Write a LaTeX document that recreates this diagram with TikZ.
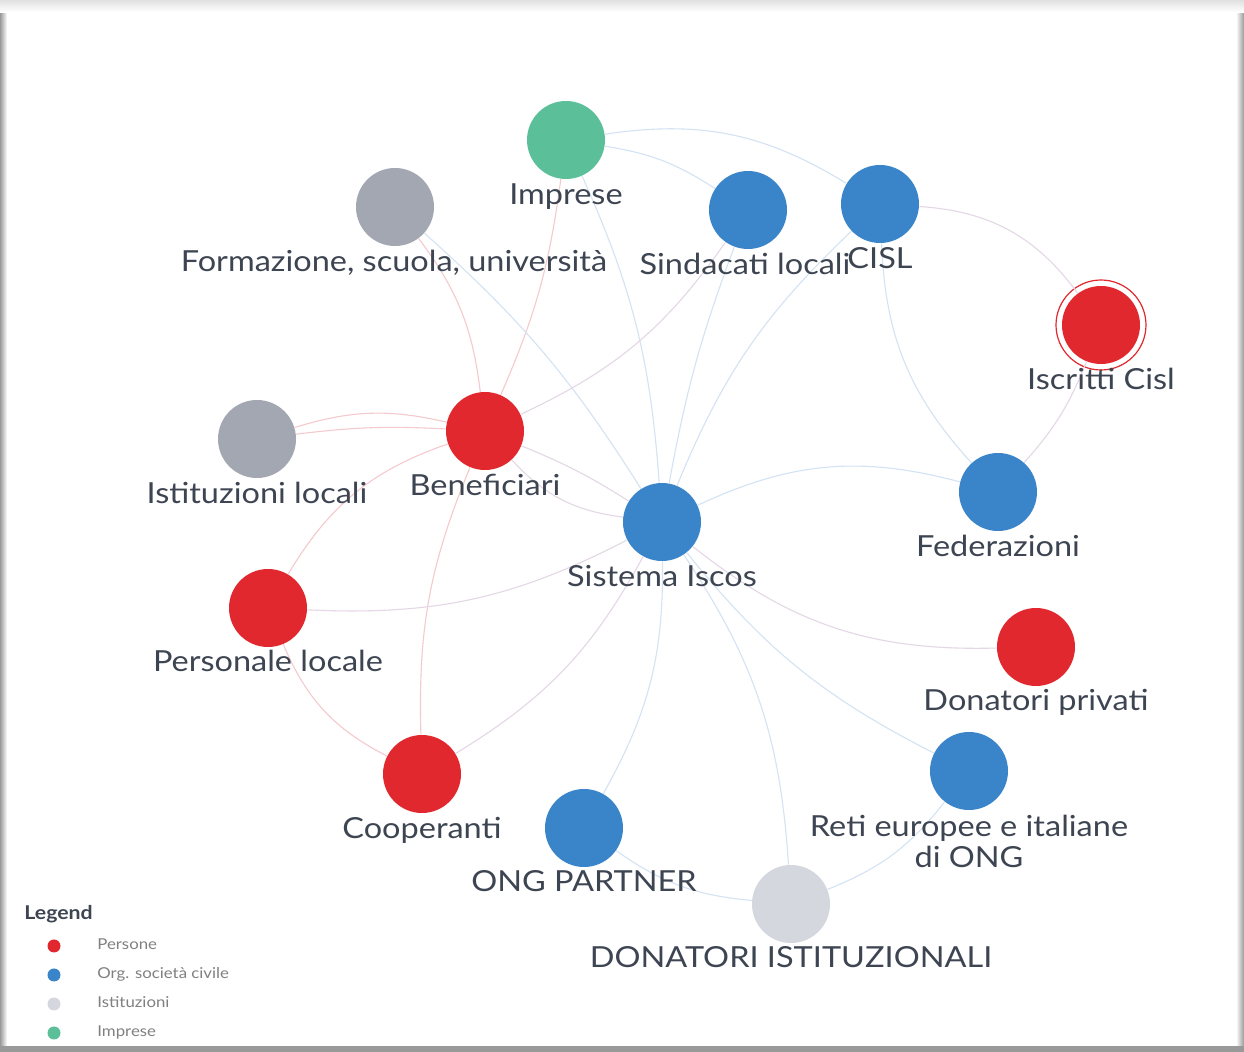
\documentclass[tikz,border=0pt]{standalone}
\usepackage{fontspec}
\setmainfont{Lato}[FakeStretch=1.12]
\definecolor{cred}{HTML}{E1282F}
\definecolor{cblue}{HTML}{3A84C9}
\definecolor{cgray}{HTML}{A3A7B1}
\definecolor{clgray}{HTML}{D5D7DE}
\definecolor{cgreen}{HTML}{5BC09A}
\definecolor{ctext}{HTML}{3E4552}
\definecolor{eblue}{HTML}{D3E3F3}
\definecolor{ered}{HTML}{F4CACE}
\definecolor{emix}{HTML}{E4D7E6}
\tikzset{
  dot/.style={circle, minimum size=39pt, inner sep=0pt, draw=none},
  lab/.style={anchor=base, text=ctext, font=\fontsize{14.5}{16}\selectfont, inner sep=0pt},
  be/.style={draw=eblue, line width=0.55pt},
  re/.style={draw=ered, line width=0.55pt},
  me/.style={draw=emix, line width=0.55pt},
  legdot/.style={circle, minimum size=6.5pt, inner sep=0pt},
  legtxt/.style={anchor=base west, text=black!50, font=\fontsize{7.5}{8}\selectfont, inner sep=0pt}
}
\begin{document}
\begin{tikzpicture}[x=0.5pt, y=-0.5pt]
\useasboundingbox (0,0) rectangle (1244,1052);
\fill[white] (0,0) rectangle (1244,1052);
% photo edges
\shade[left color=black!40, right color=white] (0,14) rectangle (7,1052);
\shade[left color=white, right color=black!40] (1236,14) rectangle (1244,1052);
\shade[top color=black!12, bottom color=white] (0,0) rectangle (1244,12);
\fill[black!40] (0,1046) rectangle (1244,1052);

% nodes
\node[dot, fill=cgreen] (imp) at (566,140) {};
\node[dot, fill=cgray] (form) at (395,207) {};
\node[dot, fill=cblue] (sind) at (748,210) {};
\node[dot, fill=cblue] (cisl) at (880,204) {};
\node[dot, fill=cred] (iscr) at (1101,325) {};
\node[dot, fill=cgray] (ist) at (257,439) {};
\node[dot, fill=cred] (ben) at (485,431) {};
\node[dot, fill=cblue] (sis) at (662,522) {};
\node[dot, fill=cblue] (fed) at (998,492) {};
\node[dot, fill=cred] (pers) at (268,608) {};
\node[dot, fill=cred] (donp) at (1036,647) {};
\node[dot, fill=cred] (coop) at (422,774) {};
\node[dot, fill=cblue] (ong) at (584,828) {};
\node[dot, fill=cblue] (reti) at (969,771) {};
\node[dot, fill=clgray] (doni) at (791,904) {};
\draw[cred, line width=0.6pt] (iscr.center) circle[radius=45];

% edges
\draw[be] (imp) to[bend left=20] (cisl);
\draw[be] (imp) to[bend left=12] (sind);
\draw[re] (imp) to[bend left=8] (ben);
\draw[be] (imp) to[bend left=10] (sis);
\draw[re] (form) to[bend left=15] (ben);
\draw[be] (form) to[bend left=8] (sis);
\draw[me] (ben) to[bend right=15] (sind);
\draw[be] (sind) to[bend right=5] (sis);
\draw[be] (cisl) to[bend right=12] (sis);
\draw[be] (cisl) to[bend right=20] (fed);
\draw[me] (cisl) to[bend left=25] (iscr);
\draw[me] (iscr) to[bend left=10] (fed);
\draw[be] (sis) to[bend left=20] (fed);
\draw[me] (ben) to[bend left=5] (sis);
\draw[me] (ben) to[bend right=20] (sis);
\draw[re] (ist) to[bend left=15] (ben);
\draw[re] (ist) to[bend left=5] (ben);
\draw[re] (ben) to[bend right=20] (pers);
\draw[re] (ben) to[bend right=12] (coop);
\draw[re] (pers) to[bend right=20] (coop);
\draw[me] (pers) to[bend right=15] (sis);
\draw[me] (coop) to[bend right=15] (sis);
\draw[be] (sis) to[bend left=15] (ong);
\draw[be] (sis) to[bend left=15] (doni);
\draw[be] (sis) to[bend right=12] (reti);
\draw[me] (sis) to[bend right=20] (donp);
\draw[be] (ong) to[bend right=15] (doni);
\draw[be] (doni) to[bend right=15] (reti);

% labels
\node[lab] (imp-l) at (566,205) {Imprese};
\node[lab] (form-l) at (394,272) {Formazione, scuola, università};
\node[lab] (sind-l) at (745,275) {Sindacati locali};
\node[lab] (cisl-l) at (880,269) {CISL};
\node[lab] (iscr-l) at (1101,390) {Iscritti Cisl};
\node[lab] (ist-l) at (257,504) {Istituzioni locali};
\node[lab] (ben-l) at (485,496) {Beneficiari};
\node[lab] (sis-l) at (662,587) {Sistema Iscos};
\node[lab] (fed-l) at (998,557) {Federazioni};
\node[lab] (pers-l) at (268,672) {Personale locale};
\node[lab] (donp-l) at (1036,711) {Donatori privati};
\node[lab] (coop-l) at (422,839) {Cooperanti};
\node[lab] (ong-l) at (584,892) {ONG PARTNER};
\node[lab] (reti-l) at (969,837) {Reti europee e italiane};
\node[lab] (reti-l2) at (969,868) {di ONG};
\node[lab] (doni-l) at (791,968) {DONATORI ISTITUZIONALI};

% legend
\node[anchor=base west, inner sep=0pt, text=ctext, font=\fontsize{9.5}{10}\selectfont\bfseries] (leg) at (24,920) {Legend};
\node[legdot, fill=cred] (ld1) at (54,946) {};
\node[legdot, fill=cblue] (ld2) at (54,975) {};
\node[legdot, fill=clgray] (ld3) at (54,1004) {};
\node[legdot, fill=cgreen] (ld4) at (54,1033) {};
\node[legtxt] (lt1) at (97,950) {Persone};
\node[legtxt] (lt2) at (97,979) {Org. società civile};
\node[legtxt] (lt3) at (97,1008) {Istituzioni};
\node[legtxt] (lt4) at (97,1037) {Imprese};
\end{tikzpicture}
\end{document}
